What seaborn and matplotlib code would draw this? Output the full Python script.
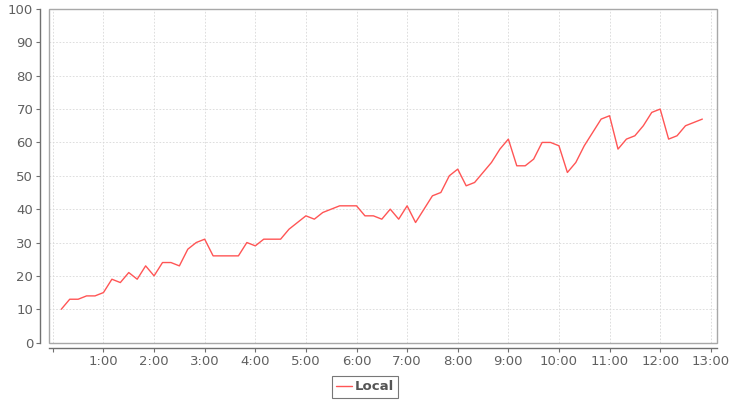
import pandas as pd
import matplotlib
matplotlib.use("Agg")
import matplotlib.pyplot as plt
import seaborn as sns
from matplotlib.patches import Rectangle

# values, one sample every 10 minutes from 0:10 to 12:50
local = [10, 13, 13, 14, 14, 15, 19, 18, 21, 19, 23, 20,
         24, 24, 23, 28, 30, 31, 26, 26, 26, 26, 30, 29,
         31, 31, 31, 34, 36, 38, 37, 39, 40, 41, 41, 41,
         38, 38, 37, 40, 37, 41, 36, 40, 44, 45, 50, 52,
         47, 48, 51, 54, 58, 61, 53, 53, 55, 60, 60, 59,
         51, 54, 59, 63, 67, 68, 58, 61, 62, 65, 69, 70,
         61, 62, 65, 66, 67]
times = pd.timedelta_range(start="0:10:00", periods=len(local), freq="10min")
hour_ticks = list(range(0, 14))
hour_labels = [""] + [f"{h}:00" for h in range(1, 14)]
y_ticks = list(range(0, 101, 10))

df = pd.DataFrame({"hours": times.total_seconds() / 3600, "Local": local})

sns.set_style("white")
plt.rcParams['font.family'] = ['DejaVu Sans']

fig = plt.figure(figsize=(7.3, 4.0), dpi=100)
ax = fig.add_axes([0.0665, 0.1435, 0.9155, 0.834])

sns.lineplot(data=df, x="hours", y="Local", color="#ff5555", linewidth=1.0, ax=ax, label="Local", legend=False)

ax.set_xlim(-0.085, 13.12)
ax.set_ylim(0, 100)
ax.set_xticks(hour_ticks)
ax.set_xticklabels(hour_labels)
ax.set_yticks(y_ticks)
ax.set_xlabel("")
ax.set_ylabel("")

ax.grid(True, color="#d8d8d8", linestyle=(0, (2, 2)), linewidth=0.6)
ax.set_axisbelow(True)

# plot frame
for s in ["top", "right"]:
    ax.spines[s].set_visible(False)
ax.add_patch(Rectangle((0, 0), 1, 1, transform=ax.transAxes, fill=False,
                       edgecolor="#a8a8a8", linewidth=1.0, zorder=5, clip_on=False))

# detached axis lines
ax.spines["left"].set_position(("outward", 6))
ax.spines["bottom"].set_position(("outward", 4))
for s in ["left", "bottom"]:
    ax.spines[s].set_color("#707070")
    ax.spines[s].set_linewidth(1.0)

ax.tick_params(axis="both", which="major", direction="out", length=3, width=0.8,
               color="#707070", labelcolor="#606060", labelsize=9.5, pad=2,
               left=True, bottom=True)

handle = ax.get_lines()[0]
leg = fig.legend([handle], ["Local"], loc="lower center", bbox_to_anchor=(0.5, 0.0),
                 frameon=True, fancybox=False, edgecolor="#555555", handlelength=1.2,
                 handletextpad=0.2, borderpad=0.35, borderaxespad=0.15,
                 prop={"weight": "bold", "size": 9.5})
leg.get_frame().set_linewidth(0.8)
for t in leg.get_texts():
    t.set_color("#555555")

fig.savefig("out.png", dpi=100)
